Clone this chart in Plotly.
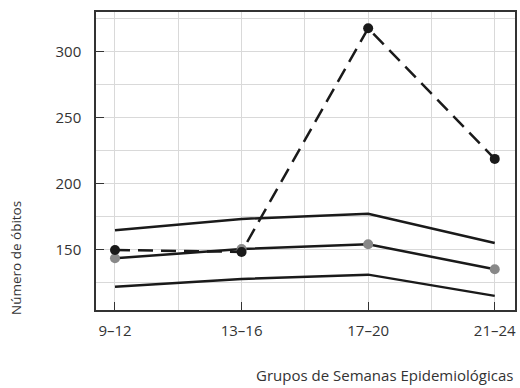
import plotly.graph_objects as go

categories = ["9–12", "13–16", "17–20", "21–24"]
observed = [150, 148.5, 318, 219]
upper = [165, 173.5, 177.5, 155.3]
expected = [143.7, 150.7, 154.3, 135.4]
lower = [122.2, 128, 131.3, 115.2]
y_ticks = [150, 200, 250, 300]

xi = list(range(len(categories)))

fig = go.Figure()
fig.add_trace(go.Scatter(x=xi, y=upper, mode="lines",
                         line=dict(color="#1a1a1a", width=2.5), showlegend=False))
fig.add_trace(go.Scatter(x=xi, y=lower, mode="lines",
                         line=dict(color="#1a1a1a", width=2.5), showlegend=False))
fig.add_trace(go.Scatter(x=xi, y=expected, mode="lines+markers",
                         line=dict(color="#1a1a1a", width=2.5),
                         marker=dict(color="#888888", size=10), showlegend=False))
fig.add_trace(go.Scatter(x=xi, y=observed, mode="lines+markers",
                         line=dict(color="#1a1a1a", width=2.5, dash="15px,8px"),
                         marker=dict(color="#1a1a1a", size=10), showlegend=False))

font_family = "Open Sans"
fig.update_layout(
    width=520, height=388,
    margin=dict(l=96, r=3, t=12, b=78),
    paper_bgcolor="white", plot_bgcolor="white",
    font=dict(family=font_family, size=15, color="#333333"),
    xaxis=dict(range=[-0.15, 3.16], tickvals=xi, ticktext=categories,
               showgrid=True, gridcolor="#d9d9d9", gridwidth=1,
               minor=dict(dtick=0.5, tick0=0, showgrid=True, gridcolor="#d9d9d9", gridwidth=1),
               ticks="inside", ticklen=8, tickcolor="#333333", tickwidth=1,
               showline=True, linecolor="#333333", linewidth=1.5, mirror=True,
               zeroline=False, ticklabelstandoff=6,
               tickfont=dict(size=15, color="#333333")),
    yaxis=dict(range=[104.5, 330.3], tickvals=y_ticks,
               showgrid=True, gridcolor="#d9d9d9", gridwidth=1,
               minor=dict(dtick=25, tick0=0, showgrid=True, gridcolor="#d9d9d9", gridwidth=1),
               ticks="inside", ticklen=8, tickcolor="#333333", tickwidth=1,
               showline=True, linecolor="#333333", linewidth=1.5, mirror=True,
               zeroline=False, ticklabelstandoff=10,
               tickfont=dict(size=15, color="#333333")),
    annotations=[
        dict(text="Grupos de Semanas Epidemiológicas", xref="paper", yref="paper",
             x=1.0, y=0, yshift=-65, xanchor="right", yanchor="middle",
             showarrow=False, font=dict(size=15, color="#333333")),
        dict(text="Número de óbitos", xref="paper", yref="paper",
             x=0, xshift=-80, y=0, yshift=52, textangle=-90,
             xanchor="center", yanchor="middle",
             showarrow=False, font=dict(size=13.5, color="#333333")),
    ],
)

fig.write_html("out.html")
